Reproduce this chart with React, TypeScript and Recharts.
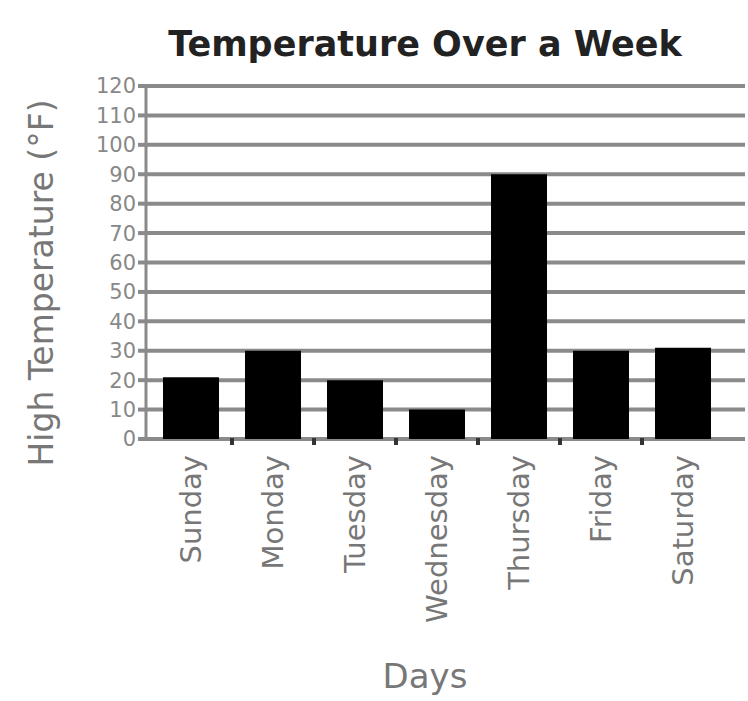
import { BarChart, Bar, XAxis, YAxis, CartesianGrid } from 'recharts';

const days = ['Sunday', 'Monday', 'Tuesday', 'Wednesday', 'Thursday', 'Friday', 'Saturday'];
const highTemps = [21, 30, 20, 10, 90, 30, 31];
const yTicks = [0, 10, 20, 30, 40, 50, 60, 70, 80, 90, 100, 110, 120];

const data = days.map((day, i) => ({ day, temp: highTemps[i] }));

const FONT = '"DejaVu Sans", Verdana, sans-serif';

// day label, plus the small dark mark on the right edge of each category band
const DayTick = (props: any) => {
  const { x, y, payload, index } = props;
  const half = payload.offset || 0;
  return (
    <g>
      {index < days.length - 1 && (
        <rect x={x + half - 2} y={y - 9} width={4} height={7} fill="#333" />
      )}
      <text
        x={x}
        y={y + 8}
        transform={`rotate(-90, ${x}, ${y + 8})`}
        textAnchor="end"
        dominantBaseline="central"
        fontFamily={FONT}
        fontSize={29}
        fill="#777"
      >
        {payload.value}
      </text>
    </g>
  );
};

export default function App() {
  return (
    <div style={{ position: 'absolute', left: 0, top: 0, width: 748, height: 701, background: '#fff' }}>
      <div
        style={{
          position: 'absolute',
          top: 24,
          left: 100,
          width: 650,
          textAlign: 'center',
          fontFamily: FONT,
          fontWeight: 'bold',
          fontSize: 35,
          color: '#222',
        }}
      >
        Temperature Over a Week
      </div>
      <BarChart
        width={748}
        height={701}
        data={data}
        margin={{ top: 86, right: 3, left: 0, bottom: 0 }}
        barSize={56}
      >
        <CartesianGrid vertical={false} stroke="#8a8a8a" strokeWidth={4} />
        <XAxis
          dataKey="day"
          height={262}
          padding={{ left: 4, right: 21 }}
          axisLine={false}
          tickLine={false}
          tickSize={6}
          tickMargin={2}
          interval={0}
          tick={<DayTick />}
          label={{
            content: () => (
              <text x={425} y={688} textAnchor="middle" fontFamily={FONT} fontSize={34} fill="#777">
                Days
              </text>
            ),
          }}
        />
        <YAxis
          width={146}
          domain={[0, 120]}
          ticks={yTicks}
          interval={0}
          axisLine={{ stroke: '#8a8a8a', strokeWidth: 3 }}
          tickLine={{ stroke: '#8a8a8a', strokeWidth: 4 }}
          tickSize={8}
          tickMargin={2}
          tick={{ fontFamily: FONT, fontSize: 21, fill: '#888' }}
          label={{
            content: () => (
              <text
                x={41}
                y={283}
                transform="rotate(-90, 41, 283)"
                textAnchor="middle"
                dominantBaseline="central"
                fontFamily={FONT}
                fontSize={33}
                fill="#777"
              >
                High Temperature (°F)
              </text>
            ),
          }}
        />
        <Bar dataKey="temp" fill="#000" isAnimationActive={false} />
      </BarChart>
    </div>
  );
}
